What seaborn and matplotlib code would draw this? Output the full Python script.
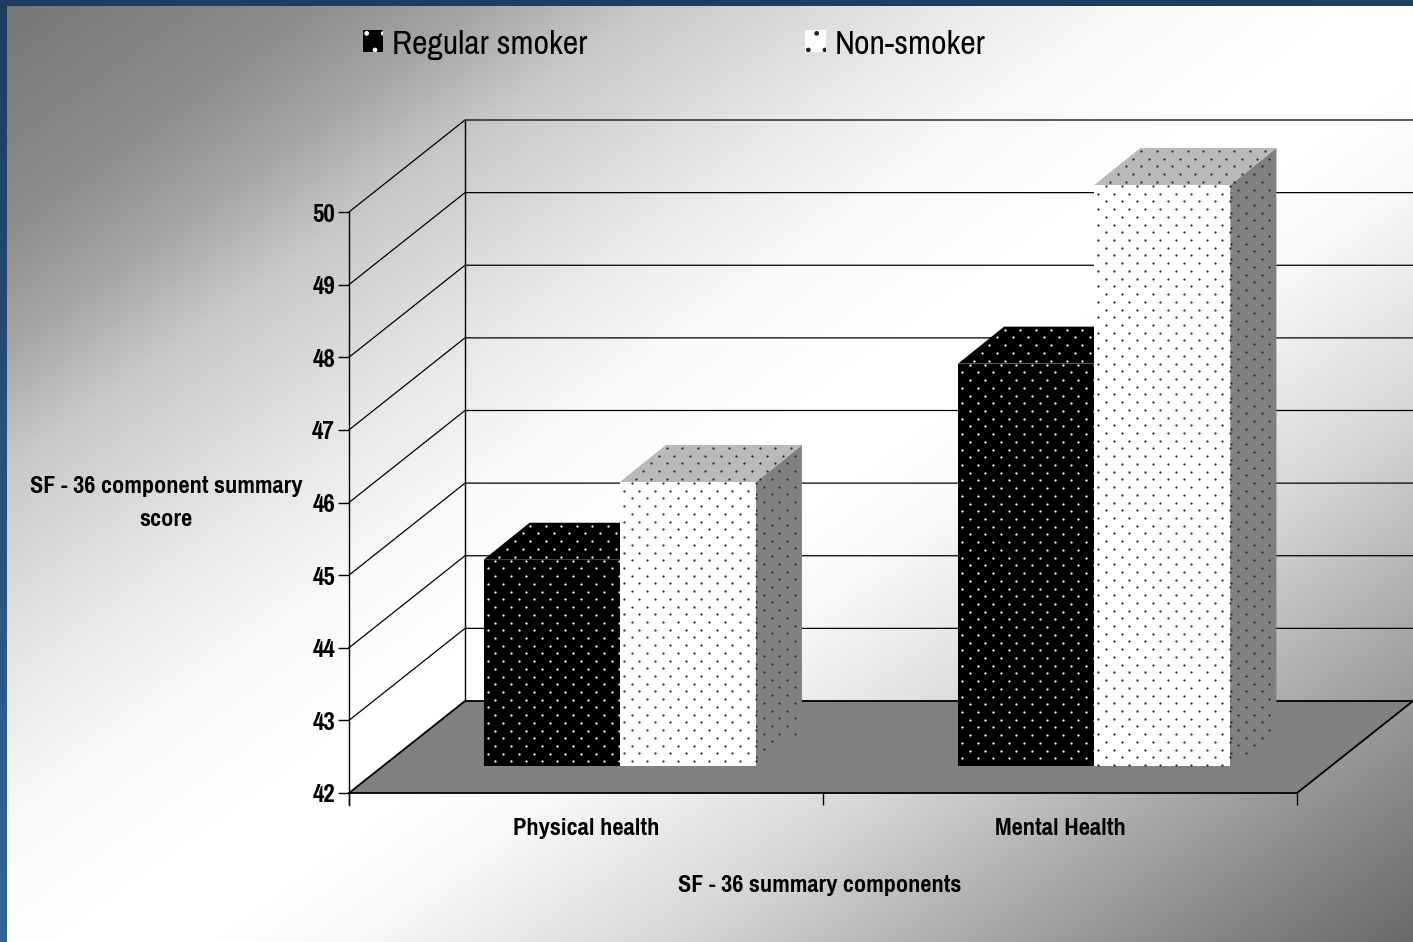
import numpy as np
import pandas as pd
import matplotlib
matplotlib.use("Agg")
import matplotlib.pyplot as plt
from matplotlib.patches import Patch, Polygon
from matplotlib.path import Path
from matplotlib.transforms import IdentityTransform
import seaborn as sns

components = ["Physical health", "Mental Health"]
groups = ["Regular smoker", "Non-smoker"]
regular_scores = [44.84, 47.54]
non_scores = [45.91, 50.0]
score_ticks = [42, 43, 44, 45, 46, 47, 48, 49, 50]

W, H = 1413, 942
sns.set_style("white")
plt.rcParams["font.family"] = ["Pragati Narrow", "Archivo Narrow", "Liberation Sans", "DejaVu Sans"]

df = pd.DataFrame({
    "component": components * 2,
    "group": [groups[0]] * 2 + [groups[1]] * 2,
    "score": regular_scores + non_scores,
})


def box(left, top, right, bottom):
    return [left / W, 1 - bottom / H, (right - left) / W, (bottom - top) / H]


fig = plt.figure(figsize=(W / 100, H / 100), dpi=100)

# background: grey - white - grey along the diagonal, blue frame on two sides
bg = fig.add_axes([0, 0, 1, 1])
xx, yy = np.meshgrid(np.arange(W), np.arange(H))
u = xx * 0.72 + yy
shade = np.interp(u, [0, 230, 352, 474, 690, 828, 1000, 1080, 1200, 1424, 1640, 1784, 1959],
                  [118, 140, 165, 200, 232, 248, 255, 255, 247, 214, 168, 138, 106])
bg.imshow(shade, cmap="gray", vmin=0, vmax=255, aspect="auto", extent=(0, W, H, 0))
frame = np.linspace(0, 1, 200)[:, None, None] * np.array([[[0.065, 0.155, 0.225]]]) + np.array([[[0.12, 0.24, 0.38]]])
bg.imshow(frame, extent=(0, 7, H, 0), aspect="auto")
bg.imshow(np.array([[[0.12, 0.24, 0.38]]]), extent=(0, W, 6, 0), aspect="auto")
bg.set_xlim(0, W)
bg.set_ylim(H, 0)
bg.axis("off")

# front plane of the box: axis ticks and labels live here
ax = fig.add_axes(box(349, 212, 1297, 793))
ax.patch.set_alpha(0)
ax.set_xlim(-0.5, 1.5)
ax.set_ylim(score_ticks[0], score_ticks[-1])
sns.despine(ax=ax, top=True, right=True, bottom=True, left=True)
ax.set_yticks(score_ticks)
ax.set_xticks([-0.5, 0.5, 1.5])
ax.set_xticklabels([])
ax.set_xticks([0, 1], components, minor=True)
ax.tick_params(axis="y", length=8, width=1, color="black", pad=2, left=True, labelsize=19.5, labelcolor="black")
ax.tick_params(axis="x", which="major", length=8.5, width=1, color="black", bottom=True)
ax.tick_params(axis="x", which="minor", length=0, pad=18.2, labelsize=19.2, labelcolor="black")
for lab in ax.get_yticklabels() + ax.get_xticklabels(minor=True):
    lab.set_fontweight("bold")
ax.set_xlabel("SF - 36 summary components", fontsize=19, fontweight="bold", color="black")
ax.xaxis.set_label_coords((820 - 349) / 948, 1 - (886 - 212) / 581, transform=ax.transAxes)
ax.xaxis.label.set_va("center")
ax.set_ylabel("SF - 36 component summary\nscore", fontsize=19, fontweight="bold", color="black",
              rotation=0, ha="center", va="center", linespacing=1.68)
ax.yaxis.set_label_coords((166 - 349) / 948, (793 - 503) / 581)

DX, DY = 116, 92
px = ax.transData.transform
x0, x1 = ax.get_xlim()
lo, hi = ax.get_ylim()
ident = IdentityTransform()


def wire(points, lw=1.0):
    pts = np.array(points)
    ax.plot(pts[:, 0], pts[:, 1], color="black", lw=lw, transform=ident, clip_on=False, zorder=2,
            solid_capstyle="projecting")


fl = px([(x0, lo), (x1, lo)])
ax.add_patch(Polygon([fl[0], fl[1], fl[1] + (DX, DY), fl[0] + (DX, DY)], closed=True, facecolor="#808080",
                     edgecolor="none", transform=ident, clip_on=False, zorder=1))
for v in score_ticks[1:]:
    a, b = px([(x0, v), (x1, v)])
    wire([a, a + (DX, DY), b + (DX, DY)], lw=0.9)
wire([fl[0], fl[0] + (DX, DY), fl[1] + (DX, DY), fl[1], fl[0]], lw=1.3)
wire([px((x0, lo)), px((x0, hi))], lw=1.0)
wire([px((x0, lo)) + (DX, DY), px((x0, hi)) + (DX, DY)], lw=1.0)
wire([px((x0, lo)), px((x0, lo)) + (0, -12)], lw=1.0)

# plane the bars stand on, partway into the box
bar_ax = fig.add_axes(box(382.5, 212 - 27, 1331.5, 793 - 27))
bar_ax.patch.set_alpha(0)
sns.barplot(data=df, x="component", y="score", hue="group", hue_order=groups, order=components,
            palette={groups[0]: "black", groups[1]: "white"}, width=0.574, gap=0, saturation=1,
            linewidth=0, legend=False, ax=bar_ax)
bar_ax.set_xlim(-0.5, 1.5)
bar_ax.set_ylim(score_ticks[0], score_ticks[-1])
bar_ax.axis("off")


def dots(poly, phase, color, z):
    # staggered dot screen clipped to one face
    poly = np.array(poly)
    left, top = poly[:, 0].min(), poly[:, 1].max()
    right, bottom = poly[:, 0].max(), poly[:, 1].min()
    xs, ys = [], []
    for k in range(int((top - bottom) / 7.72) + 2):
        shift = 0 if k % 2 else 7.75
        for c in np.arange(left + phase[0] + shift - 15.5, right + 1, 15.5):
            xs.append(c)
            ys.append(top - phase[1] - k * 7.72)
    pts = np.column_stack([xs, ys])
    pts = pts[Path(poly).contains_points(pts)]
    bar_ax.scatter(pts[:, 0], pts[:, 1], s=2.6, color=color, linewidths=0, transform=ident, clip_on=False, zorder=z)


bar_dx, bar_dy = 46, 37
face_cols = {
    "black": dict(front="black", side="black", top="black", dot="white"),
    "white": dict(front="white", side="#808080", top="#b9b9b9", dot="#2a2a2a"),
}
bars = list(bar_ax.patches)
for i, bar in enumerate(bars):
    style = face_cols["black"] if i < 2 else face_cols["white"]
    z = 3 + (0 if i < 2 else 2)
    (l, b), (r, t_) = bar_ax.transData.transform([(bar.get_x(), score_ticks[0]),
                                                  (bar.get_x() + bar.get_width(), bar.get_height())])
    front = [(l, b), (r, b), (r, t_), (l, t_)]
    side = [(r, b), (r + bar_dx, b + bar_dy), (r + bar_dx, t_ + bar_dy), (r, t_)]
    top = [(l, t_), (r, t_), (r + bar_dx, t_ + bar_dy), (l + bar_dx, t_ + bar_dy)]
    bar.set_zorder(z + 1)
    for poly, col in ((side, style["side"]), (top, style["top"])):
        bar_ax.add_patch(Polygon(poly, closed=True, facecolor=col, edgecolor="none", transform=ident,
                                 clip_on=False, zorder=z))
        dots(poly, (8, 3), style["dot"], z + 0.5)
    dots(front, (4, 1), style["dot"], z + 1.5)
bar_ax.set_xlim(-0.5, 1.5)
bar_ax.set_ylim(score_ticks[0], score_ticks[-1])

handles = [Patch(facecolor="black", edgecolor="white", hatch=".", linewidth=0, label=groups[0]),
           Patch(facecolor="white", edgecolor="#222222", hatch=".", linewidth=0, label=groups[1])]
fig.legend(handles=handles, loc="upper left", bbox_to_anchor=(363 / W, 1 - 30 / H), ncols=2, frameon=False,
           fontsize=26.5, handlelength=0.55, handleheight=0.55, handletextpad=0.25, columnspacing=5.91,
           borderpad=0, borderaxespad=0, labelcolor="black")

fig.savefig("out.png", dpi=100)
